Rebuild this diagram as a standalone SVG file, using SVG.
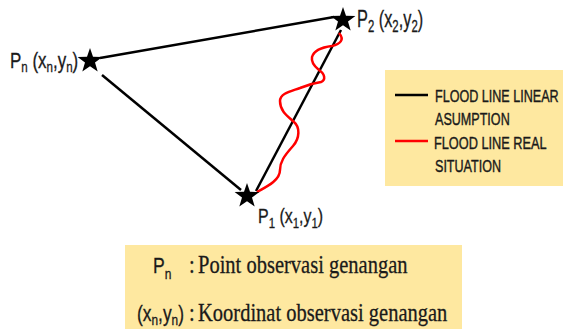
<svg xmlns="http://www.w3.org/2000/svg" width="563" height="329" viewBox="0 0 563 329">
<style>
.bg{fill:#fee8a0}
.lbl{font-family:"Liberation Sans",Arial,sans-serif;fill:#1a1a1a;stroke:#1a1a1a;stroke-width:0.3}
.leg{font-family:"Liberation Sans",Arial,sans-serif;font-size:17px;fill:#1a1a1a;stroke:#1a1a1a;stroke-width:0.4}
.ser{font-family:"Liberation Serif","Times New Roman",serif;font-size:25px;fill:#1a1a1a;stroke:#1a1a1a;stroke-width:0.3}
.edge{stroke:#000;stroke-width:2.5;fill:none}
.real{stroke:#f00;stroke-width:2.5;fill:none;stroke-linejoin:round}
</style>
<defs>
<polygon id="star" points="0,-13 3,-4.2 12.4,-4 5,1.6 7.7,10.5 0,5.2 -7.7,10.5 -5,1.6 -12.4,-4 -3,-4.2" fill="#000"/>
</defs>
<rect width="563" height="329" fill="#fff"/>
<g id="connectors">
<line class="edge" x1="100" y1="58" x2="334" y2="17"/>
<line class="edge" x1="102" y1="75" x2="241" y2="190"/>
<line class="edge" x1="256" y1="191" x2="341" y2="30"/>
<path class="real" d="M257,192 C268,186 280,180 280,170 C280,162 284,156 293,146 C300,138 300,127 294,122 C289,117 280,112 280,101 C280,93 292,91 300,88 C307,85 314,83 321,82 C326,80 325,74 319,70 C314,66 311,62 312,57 C314,50 324,47 332,46 C340,44 345,40 339,33"/>
</g>
<g id="node-pn">
<use href="#star" x="90" y="61"/>
<text class="lbl" font-size="22" transform="translate(10,68) scale(0.77,1)">P<tspan font-size="15" dy="4">n</tspan><tspan dy="-4"> (x</tspan><tspan font-size="15" dy="4">n</tspan><tspan dy="-4">,y</tspan><tspan font-size="15" dy="4">n</tspan><tspan dy="-4">)</tspan></text>
</g>
<g id="node-p2">
<use href="#star" x="343" y="20"/>
<text class="lbl" font-size="23" transform="translate(357,27) scale(0.71,1)">P<tspan font-size="16" dy="5">2</tspan><tspan dy="-5"> (x</tspan><tspan font-size="16" dy="5">2</tspan><tspan dy="-5">,y</tspan><tspan font-size="16" dy="5">2</tspan><tspan dy="-5">)</tspan></text>
</g>
<g id="node-p1">
<use href="#star" x="247" y="196"/>
<text class="lbl" font-size="21" transform="translate(258,223) scale(0.76,1)">P<tspan font-size="15" dy="5">1</tspan><tspan dy="-5"> (x</tspan><tspan font-size="15" dy="5">1</tspan><tspan dy="-5">,y</tspan><tspan font-size="15" dy="5">1</tspan><tspan dy="-5">)</tspan></text>
</g>
<g id="legend">
<rect class="bg" x="385" y="70" width="178" height="116"/>
<line x1="395" y1="95" x2="428" y2="95" stroke="#000" stroke-width="2.5"/>
<line x1="395" y1="141" x2="428" y2="141" stroke="#f00" stroke-width="2.5"/>
<text class="leg" transform="translate(435,102) scale(0.74,1)">FLOOD LINE LINEAR</text>
<text class="leg" transform="translate(435,125) scale(0.74,1)">ASUMPTION</text>
<text class="leg" transform="translate(434,149) scale(0.75,1)">FLOOD LINE REAL</text>
<text class="leg" transform="translate(435,172) scale(0.74,1)">SITUATION</text>
</g>
<g id="notes">
<rect class="bg" x="125" y="245" width="337" height="84"/>
<text class="lbl" font-size="22" transform="translate(153,273) scale(0.8,1)">P<tspan font-size="15" dy="6">n</tspan></text>
<text class="ser" transform="translate(189,273) scale(0.82,1)">:</text>
<text class="ser" transform="translate(198,273) scale(0.82,1)">Point observasi genangan</text>
<text class="lbl" font-size="22" transform="translate(137,321) scale(0.79,1)">(x<tspan font-size="15" dy="4">n</tspan><tspan dy="-4">,y</tspan><tspan font-size="15" dy="4">n</tspan><tspan dy="-4">)</tspan></text>
<text class="ser" transform="translate(189,321) scale(0.82,1)">:</text>
<text class="ser" transform="translate(198,321) scale(0.82,1)">Koordinat observasi genangan</text>
</g>
</svg>
